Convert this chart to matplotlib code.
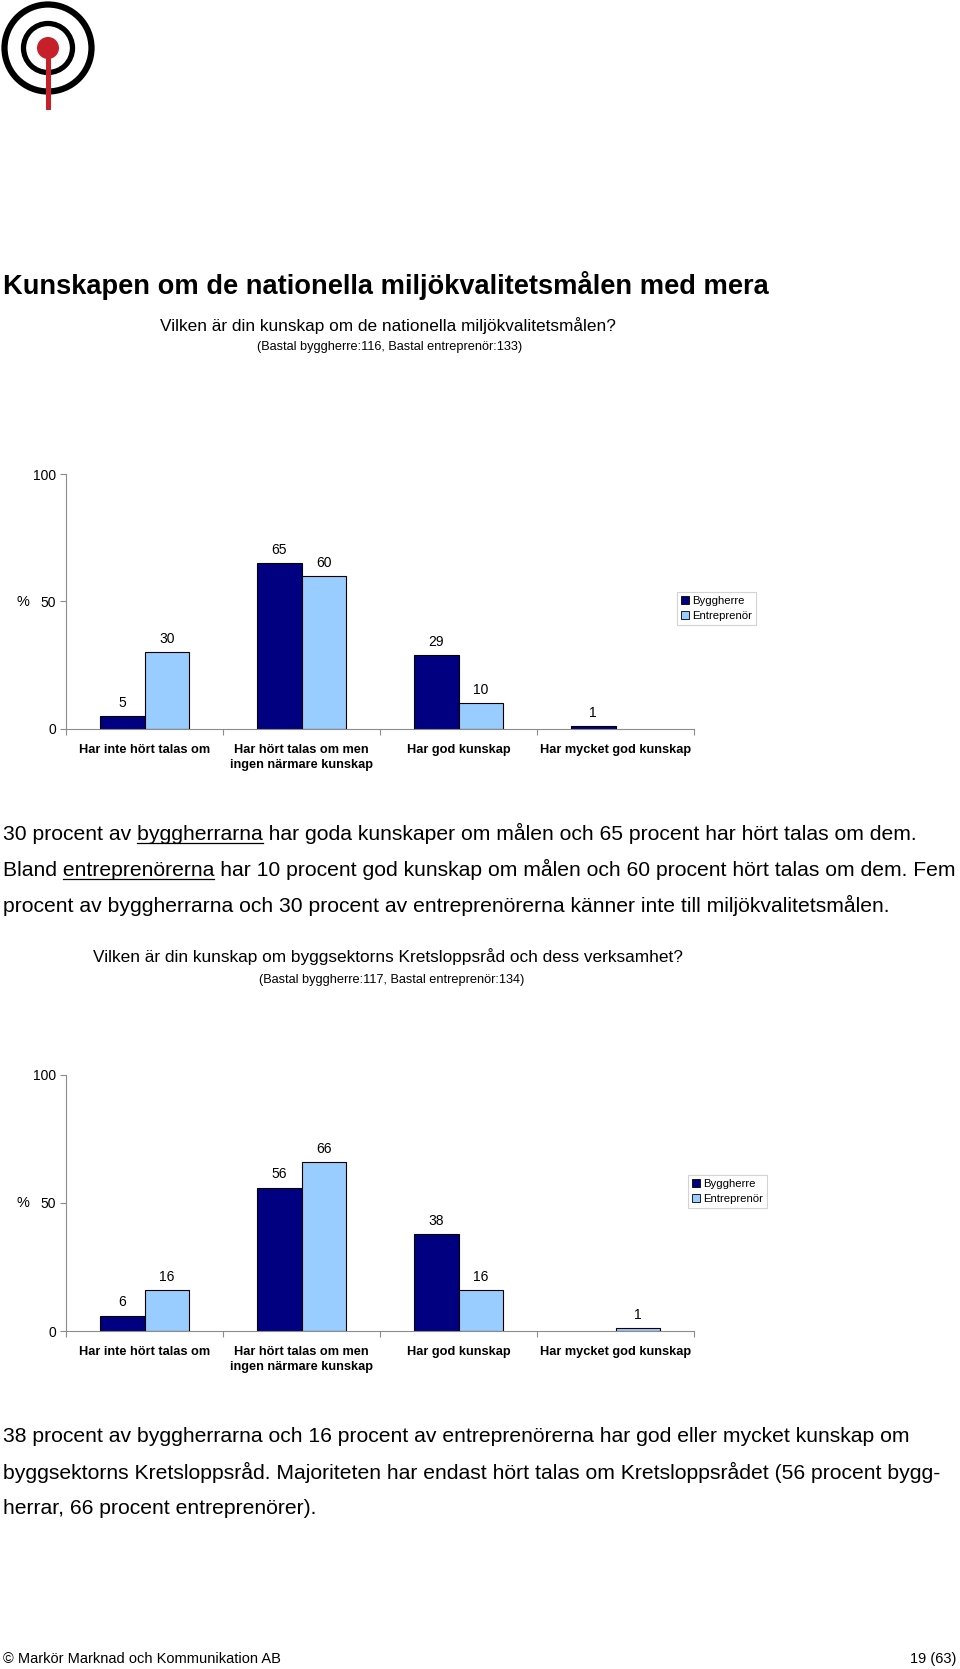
import numpy as np
import matplotlib
matplotlib.use("Agg")
import matplotlib.pyplot as plt
from matplotlib.patches import Circle, Rectangle, Patch

plt.rcParams['font.family'] = ['Liberation Sans', 'DejaVu Sans']

W, H = 960, 1669

categories = ["Har inte hört talas om", "Har hört talas om men\ningen närmare kunskap",
              "Har god kunskap", "Har mycket god kunskap"]
series_names = ["Byggherre", "Entreprenör"]

# chart 1: nationella miljökvalitetsmålen
byggherre_1 = [5, 65, 29, 1]
entreprenor_1 = [30, 60, 10, 0]
# chart 2: Kretsloppsrådet
byggherre_2 = [6, 56, 38, 0]
entreprenor_2 = [16, 66, 16, 1]

y_ticks = [0, 50, 100]

DARK = "#000080"
LIGHT = "#99CCFF"
GRID = "#8c8c8c"

fig = plt.figure(figsize=(W / 100, H / 100), dpi=100)


def fx(x):
    return x / W


def fy(y):
    return 1 - y / H


def ftext(x, y, s, **kw):
    return fig.text(fx(x), fy(y), s, **kw)


# logo
lax = fig.add_axes([0, fy(118), fx(118), 118 / H])
lax.set_xlim(0, 118)
lax.set_ylim(118, 0)
lax.set_aspect('equal')
lax.axis('off')
lax.add_patch(Circle((48, 48), 43.5, fill=False, ec='black', lw=4.5))
lax.add_patch(Circle((48, 48), 24.5, fill=False, ec='black', lw=3.8))
lax.add_patch(Rectangle((45.5, 48), 5, 62, color='#c8202a', lw=0))
lax.add_patch(Circle((48, 48), 11, color='#c8202a', lw=0))

# title
ftext(3, 285, "Kunskapen om de nationella miljökvalitetsmålen med mera",
      fontsize=19.6, fontweight='bold', va='center', ha='left')


def bar_chart(top, bottom, byg, ent, legend_xy):
    ax = fig.add_axes([fx(66), fy(bottom), fx(694) - fx(66), (bottom - top) / H])
    x = np.arange(len(categories))
    w = 0.283
    b1 = ax.bar(x - w / 2, byg, w, color=DARK, edgecolor='black', lw=0.8)
    b2 = ax.bar(x + w / 2, ent, w, color=LIGHT, edgecolor='black', lw=0.8)
    for bars, vals in ((b1, byg), (b2, ent)):
        for b, v in zip(bars, vals):
            if v == 0:
                b.set_visible(False)
                continue
            ax.annotate(str(v), (b.get_x() + b.get_width() / 2, v),
                        xytext=(0, 9.5), textcoords='offset points',
                        ha='center', va='center', fontsize=10)
    ax.set_xlim(-0.5, len(categories) - 0.5)
    ax.set_ylim(0, 100)
    ax.set_yticks(y_ticks)
    ax.set_yticklabels([str(t) for t in y_ticks], fontsize=10)
    ax.set_xticks(np.arange(len(categories) + 1) - 0.5)
    ax.set_xticklabels([])
    ax.set_xticks(x, minor=True)
    ax.set_xticklabels(categories, minor=True, fontsize=9.2, fontweight='bold',
                       linespacing=1.38, va='top')
    ax.tick_params(axis='x', which='minor', length=0, pad=10.5)
    ax.tick_params(axis='x', which='major', length=4, color=GRID)
    ax.tick_params(axis='y', length=4, color=GRID, pad=3)
    for s in ('top', 'right'):
        ax.spines[s].set_visible(False)
    for s in ('left', 'bottom'):
        ax.spines[s].set_color(GRID)
        ax.spines[s].set_linewidth(0.8)
    ax.set_facecolor('none')
    ax.text(-0.068, 0.5, "%", transform=ax.transAxes, fontsize=10.5,
            ha='center', va='center')
    handles = [Patch(facecolor=DARK, edgecolor='black', lw=0.6),
               Patch(facecolor=LIGHT, edgecolor='black', lw=0.6)]
    leg = fig.legend(handles, series_names, loc='upper left',
                     bbox_to_anchor=(fx(legend_xy[0]), fy(legend_xy[1])),
                     fontsize=8.2, frameon=True, fancybox=False,
                     handlelength=0.7, handleheight=0.7, handletextpad=0.3,
                     borderpad=0.35, labelspacing=0.4, borderaxespad=0)
    leg.get_frame().set_edgecolor('#c8c8c8')
    leg.get_frame().set_linewidth(0.8)
    return ax


ftext(388, 326, "Vilken är din kunskap om de nationella miljökvalitetsmålen?",
      fontsize=12.4, ha='center', va='center')
ftext(390, 347, "(Bastal byggherre:116, Bastal entreprenör:133)",
      fontsize=9.2, ha='center', va='center')
bar_chart(474, 729, byggherre_1, entreprenor_1, (677, 592))

ftext(388, 957, "Vilken är din kunskap om byggsektorns Kretsloppsråd och dess verksamhet?",
      fontsize=12.4, ha='center', va='center')
ftext(392, 980, "(Bastal byggherre:117, Bastal entreprenör:134)",
      fontsize=9.2, ha='center', va='center')
bar_chart(1075, 1331, byggherre_2, entreprenor_2, (688, 1175))

# body text
BODY = 15.2
renderer = fig.canvas.get_renderer()


def text_width(s):
    t = fig.text(0, 0, s, fontsize=BODY)
    w = t.get_window_extent(renderer).width
    t.remove()
    return w


def body_line(y, s, underline=None):
    ftext(3, y, s, fontsize=BODY, ha='left', va='center')
    if underline:
        i = s.index(underline)
        end = text_width(s[:i + len(underline)])
        start = end - text_width(underline)
        uy = fy(y + 10)
        fig.add_artist(plt.Line2D([fx(3 + start), fx(3 + end)], [uy, uy],
                                  color='black', lw=0.9))


body_line(833, "30 procent av byggherrarna har goda kunskaper om målen och 65 procent har hört talas om dem.",
          "byggherrarna")
body_line(869, "Bland entreprenörerna har 10 procent god kunskap om målen och 60 procent hört talas om dem. Fem",
          "entreprenörerna")
body_line(905, "procent av byggherrarna och 30 procent av entreprenörerna känner inte till miljökvalitetsmålen.")

body_line(1436, "38 procent av byggherrarna och 16 procent av entreprenörerna har god eller mycket kunskap om")
body_line(1472, "byggsektorns Kretsloppsråd. Majoriteten har endast hört talas om Kretsloppsrådet (56 procent bygg-")
body_line(1508, "herrar, 66 procent entreprenörer).")

# footer
ftext(3, 1659, "© Markör Marknad och Kommunikation AB", fontsize=10.5, ha='left', va='center')
ftext(956, 1659, "19 (63)", fontsize=10.5, ha='right', va='center')

fig.savefig("out.png", dpi=100)
